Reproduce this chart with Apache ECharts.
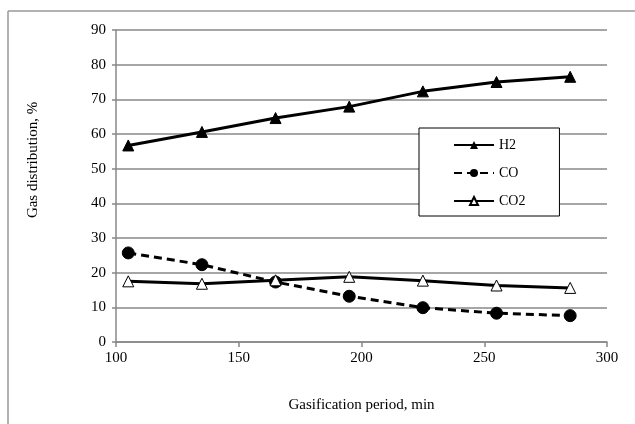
<!DOCTYPE html>
<html>
<head>
<meta charset="utf-8">
<script src="https://cdn.jsdelivr.net/npm/echarts@6/dist/echarts.min.js"></script>
<style>
  html, body { margin: 0; padding: 0; background: #fff; }
  #chart { width: 635px; height: 424px; }
</style>
</head>
<body>
<div id="chart"></div>
<script>
// gasification period, min
const periods = [105, 135, 165, 195, 225, 255, 285];
// gas distribution, %
const h2 = [56.7, 60.6, 64.6, 67.9, 72.3, 75.0, 76.5];
const co = [25.7, 22.3, 17.3, 13.2, 9.9, 8.3, 7.6];
const co2 = [17.5, 16.8, 17.8, 18.8, 17.7, 16.3, 15.6];

const pairs = (ys) => periods.map((x, i) => [x, ys[i]]);
const font = "Liberation Serif";

const chart = echarts.init(document.getElementById("chart"));

chart.setOption({
  animation: false,
  textStyle: { fontFamily: font, color: "#000" },
  grid: { left: 116, right: 28, top: 30, bottom: 82 },
  xAxis: {
    type: "value",
    min: 100,
    max: 300,
    interval: 50,
    name: "Gasification period, min",
    nameLocation: "middle",
    nameGap: 56,
    nameTextStyle: { fontFamily: font, fontSize: 15, color: "#000" },
    axisLine: { lineStyle: { color: "#888", width: 1.5 } },
    axisTick: { show: true, length: 5, lineStyle: { color: "#888", width: 1.5 } },
    axisLabel: { fontFamily: font, fontSize: 15, color: "#000", margin: 9 },
    splitLine: { show: false },
  },
  yAxis: {
    type: "value",
    min: 0,
    max: 90,
    interval: 10,
    axisLine: { show: true, lineStyle: { color: "#888", width: 1.5 } },
    axisTick: { show: true, length: 4, lineStyle: { color: "#888", width: 1.5 } },
    axisLabel: { fontFamily: font, fontSize: 15, color: "#000", margin: 10 },
    splitLine: { show: true, lineStyle: { color: "#888", width: 1.5 } },
  },
  legend: {
    orient: "vertical",
    left: 419,
    top: 128,
    padding: [9, 34, 7, 34],
    itemGap: 12,
    itemWidth: 40,
    itemHeight: 10,
    borderColor: "#000",
    borderWidth: 1,
    backgroundColor: "#fff",
    textStyle: { fontFamily: font, fontSize: 14, color: "#000", lineHeight: 16 },
    data: ["H2", "CO", "CO2"],
  },
  graphic: [
    { type: "line", shape: { x1: 8, y1: 11, x2: 635, y2: 11 }, style: { stroke: "#999", lineWidth: 1.5 } },
    { type: "line", shape: { x1: 8, y1: 11, x2: 8, y2: 424 }, style: { stroke: "#999", lineWidth: 1.5 } },
    {
      type: "text",
      x: 33,
      y: 160,
      rotation: Math.PI / 2,
      style: {
        text: "Gas distribution, %",
        fontFamily: font,
        fontSize: 15,
        fill: "#000",
        align: "center",
        verticalAlign: "middle",
      },
    },
  ],
  series: [
    {
      name: "H2",
      type: "line",
      data: pairs(h2),
      symbol: "triangle",
      symbolSize: 11,
      itemStyle: { color: "#000", borderColor: "#000" },
      lineStyle: { color: "#000", width: 3 },
    },
    {
      name: "CO",
      type: "line",
      data: pairs(co),
      symbol: "circle",
      symbolSize: 12,
      itemStyle: { color: "#000", borderColor: "#000" },
      lineStyle: { color: "#000", width: 3, type: [8, 5] },
    },
    {
      name: "CO2",
      type: "line",
      data: pairs(co2),
      symbol: "triangle",
      symbolSize: 11,
      itemStyle: { color: "#fff", borderColor: "#000", borderWidth: 1 },
      lineStyle: { color: "#000", width: 3 },
    },
  ],
});
</script>
</body>
</html>
